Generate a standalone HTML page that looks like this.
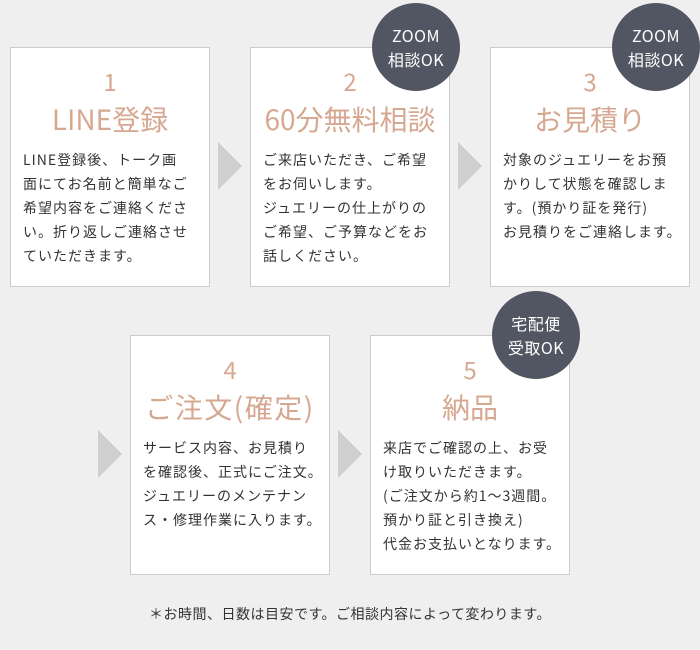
<!DOCTYPE html>
<html><head><meta charset="utf-8"><style>
*{margin:0;padding:0;box-sizing:border-box}
body{width:700px;height:650px;background:#efefef;position:relative;font-family:"Noto Sans CJK JP","Liberation Sans",sans-serif;overflow:hidden}
.card{position:absolute;width:200px;height:240px;background:#fff;border:1px solid #ccc}
.num{position:absolute;left:0;width:100%;top:18px;text-align:center;color:#d6a891;font-size:24px;line-height:30px}
.ttl{position:absolute;left:0;width:100%;top:52px;text-align:center;color:#d6a891;font-size:28px;line-height:38px;white-space:nowrap;font-weight:400}
.txt{position:absolute;left:12px;top:100px;font-size:14px;line-height:24px;color:#333;letter-spacing:1px;white-space:nowrap}
.arr{position:absolute;width:0;height:0;border-top:24px solid transparent;border-bottom:24px solid transparent;border-left:24px solid #cfcfcf}
.badge{position:absolute;width:88px;height:88px;border-radius:50%;background:#525662;color:#fff;font-size:16px;line-height:24px;text-align:center;padding-top:20px;letter-spacing:0.5px}
.note{position:absolute;left:0;width:700px;top:604px;text-align:center;font-size:14px;color:#333;letter-spacing:0.5px}
</style></head><body>
<div class="card" style="left:10px;top:47px"><div class="num">1</div><div class="ttl">LINE登録</div><div class="txt">LINE登録後、トーク画<br>面にてお名前と簡単なご<br>希望内容をご連絡くださ<br>い。折り返しご連絡させ<br>ていただきます。</div></div>
<div class="card" style="left:250px;top:47px"><div class="num">2</div><div class="ttl">60分無料相談</div><div class="txt">ご来店いただき、ご希望<br>をお伺いします。<br>ジュエリーの仕上がりの<br>ご希望、ご予算などをお<br>話しください。</div></div>
<div class="card" style="left:490px;top:47px"><div class="num">3</div><div class="ttl">お見積り</div><div class="txt">対象のジュエリーをお預<br>かりして状態を確認しま<br>す。(預かり証を発行)<br>お見積りをご連絡します。</div></div>
<div class="card" style="left:130px;top:335px"><div class="num">4</div><div class="ttl" style="letter-spacing:1.5px">ご注文(確定)</div><div class="txt">サービス内容、お見積り<br>を確認後、正式にご注文。<br>ジュエリーのメンテナン<br>ス・修理作業に入ります。</div></div>
<div class="card" style="left:370px;top:335px"><div class="num">5</div><div class="ttl">納品</div><div class="txt">来店でご確認の上、お受<br>け取りいただきます。<br>(ご注文から約1〜3週間。<br>預かり証と引き換え)<br>代金お支払いとなります。</div></div>
<div class="arr" style="left:218px;top:142px"></div>
<div class="arr" style="left:458px;top:142px"></div>
<div class="arr" style="left:98px;top:430px"></div>
<div class="arr" style="left:338px;top:430px"></div>
<div class="badge" style="left:372px;top:3px">ZOOM<br>相談OK</div>
<div class="badge" style="left:612px;top:3px">ZOOM<br>相談OK</div>
<div class="badge" style="left:492px;top:291px">宅配便<br>受取OK</div>
<div class="note">＊お時間、日数は目安です。ご相談内容によって変わります。</div>
</body></html>
